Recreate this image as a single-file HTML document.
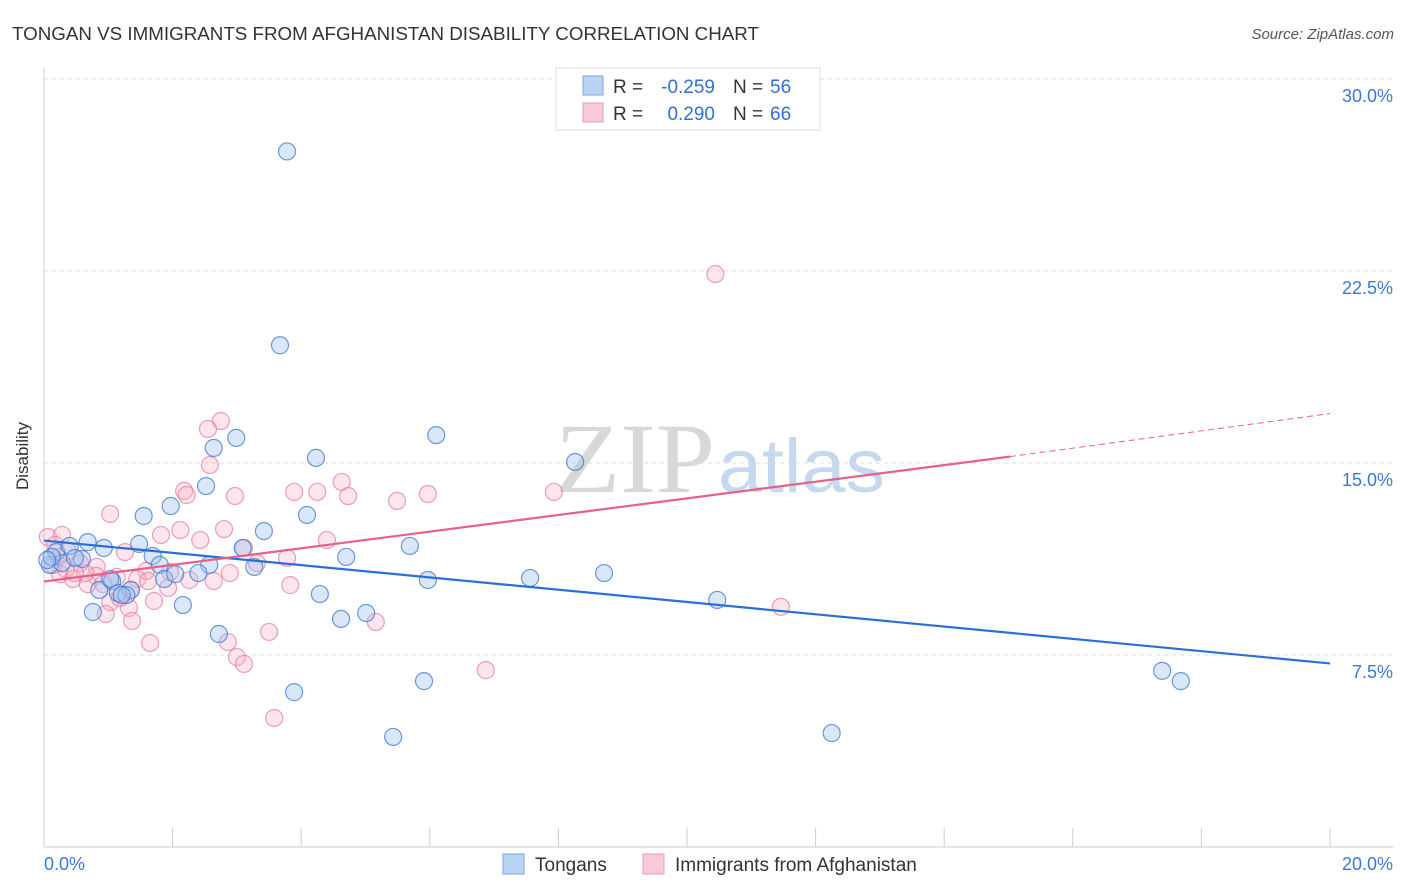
<!DOCTYPE html>
<html><head><meta charset="utf-8"><style>
body{margin:0;background:#fff;font-family:"Liberation Sans",sans-serif}
svg{display:block}
</style></head><body>
<svg id="c" width="1406" height="892">
<text x="12" y="40" font-size="18" fill="#333" textLength="747" lengthAdjust="spacingAndGlyphs">TONGAN VS IMMIGRANTS FROM AFGHANISTAN DISABILITY CORRELATION CHART</text>
<text x="1394" y="39" font-size="15" fill="#555" font-style="italic" text-anchor="end">Source: ZipAtlas.com</text>
<text x="555" y="492" font-size="100" fill="#d8d8d8" textLength="160" lengthAdjust="spacingAndGlyphs" font-family="Liberation Serif">ZIP</text>
<text x="718" y="492" font-size="76" fill="#c5d8ee" textLength="167" lengthAdjust="spacingAndGlyphs">atlas</text>
<g id="grid"></g><g id="pts"></g><g id="lines"></g>
<text x="28" y="456" font-size="17" fill="#333" text-anchor="middle" transform="rotate(-90 28 456)">Disability</text>
<g>
<rect x="556" y="68" width="264" height="62" fill="#fff" stroke="#ddd"/>
<rect x="583" y="76" width="20" height="19" fill="#b9d3f5" stroke="#7ea6e0"/>
<rect x="583" y="103" width="20" height="19" fill="#f9c9d7" stroke="#ec9ab3"/>
<text x="613" y="93" font-size="19" fill="#333">R =</text>
<text x="715" y="93" font-size="19" fill="#2f6fd6" text-anchor="end">-0.259</text>
<text x="733" y="93" font-size="19" fill="#333">N =</text>
<text x="770" y="93" font-size="19" fill="#2f6fd6">56</text>
<text x="613" y="120" font-size="19" fill="#333">R =</text>
<text x="715" y="120" font-size="19" fill="#2f6fd6" text-anchor="end">0.290</text>
<text x="733" y="120" font-size="19" fill="#333">N =</text>
<text x="770" y="120" font-size="19" fill="#2f6fd6">66</text>
</g>
<g>
<rect x="503" y="854" width="21" height="20" fill="#b9d3f5" stroke="#7ea6e0"/>
<text x="535" y="871" font-size="19" fill="#333">Tongans</text>
<rect x="643" y="854" width="21" height="20" fill="#f9c9d7" stroke="#ec9ab3"/>
<text x="675" y="871" font-size="19" fill="#333">Immigrants from Afghanistan</text>
</g>
</svg>
<script>
const yTicks=[7.5,15,22.5,30];
const xTicksLabels=["0.0%","20.0%"];
const blueX=[3.78,3.67,6.1,2.99,8.26,2.64,2.52,4.23,1.97,1.55,4.09,3.42,0.68,0.93,1.48,3.09,4.7,5.69,0.19,0.4,0.59,1.69,1.8,2.57,3.27,8.71,7.56,1.87,2.04,2.4,1.06,5.97,4.29,1.35,1.15,1.28,0.86,5.01,2.16,0.76,4.62,10.47,2.72,3.89,5.91,5.43,12.25,17.39,17.68,0.09,0.28,0.12,0.48,0.05,1.03,1.21];
const blueY=[27.17,19.6,16.09,15.98,15.04,15.59,14.1,15.2,13.32,12.93,12.97,12.34,11.91,11.68,11.84,11.68,11.33,11.76,11.52,11.76,11.25,11.37,11.02,11.02,10.94,10.7,10.51,10.47,10.66,10.7,10.39,10.43,9.88,10.04,9.92,9.84,10.04,9.14,9.45,9.18,8.91,9.65,8.32,6.05,6.48,4.3,4.45,6.88,6.48,11.02,11.09,11.33,11.29,11.21,10.47,9.84];
const pinkX=[10.44,2.75,2.55,2.58,2.18,2.22,2.97,3.89,4.25,4.63,4.73,5.49,5.97,7.93,1.03,2.12,1.82,2.8,4.4,2.43,1.26,3.11,3.31,3.78,0.06,0.28,0.17,0.37,0.56,0.82,1.13,1.59,2.26,2.89,2.64,1.45,1.62,0.81,0.25,0.45,0.68,0.92,1.35,1.93,0.64,0.34,3.83,1.03,1.32,1.71,0.96,1.37,5.16,1.65,2.86,3.5,3.0,3.11,6.87,3.58,11.46,1.96,0.14,0.22,0.48,1.18];
const pinkY=[22.38,16.64,16.33,14.92,13.91,13.75,13.71,13.87,13.87,14.26,13.71,13.52,13.79,13.87,13.01,12.38,12.19,12.42,11.99,11.99,11.52,11.68,11.09,11.29,12.11,12.19,11.8,11.56,11.09,10.94,10.55,10.78,10.43,10.7,10.39,10.47,10.39,10.59,10.66,10.47,10.27,10.27,10.04,10.12,10.7,10.86,10.23,9.57,9.34,9.61,9.1,8.83,8.79,7.97,8.01,8.4,7.42,7.15,6.91,5.04,9.38,10.74,11.02,11.33,10.7,9.73];
const blueLine=[[0,11.97],[20,7.17]];
const pinkLine=[[0,10.37],[15.02,15.25],[20,16.93]];
const X=v=>44+v*64.3, Y=v=>847-v*25.6;
const NS="http://www.w3.org/2000/svg";
function mk(t,a,p){const e=document.createElementNS(NS,t);for(const k in a)e.setAttribute(k,a[k]);p.appendChild(e);return e;}
const g=document.getElementById('grid');
let ax=mk('line',{x1:44,y1:68,x2:44,y2:847,stroke:'#ccc'},g);

let bx=mk('line',{x1:44,y1:847,x2:1393,y2:847,stroke:'#ccc'},g);

yTicks.forEach(t=>{
 const l=mk('line',{x1:44,x2:1393,y1:Y(t),y2:Y(t),stroke:'#ddd','stroke-dasharray':'4,4'},g);
 
 const tx=mk('text',{x:1393,y:Y(t)+23,'font-size':18,fill:'#3a78d8','text-anchor':'end'},g);
 tx.textContent=t.toFixed(1)+'%';
 
});
for(let i=0;i<=10;i++){const x=X(i*2);const l=mk('line',{x1:x,x2:x,y1:828,y2:847,stroke:'#ccc'},g);
 }
[[X(0),'start',xTicksLabels[0]],[1393,'end',xTicksLabels[1]]].forEach(([x,a,s])=>{
 const t=mk('text',{x:x,y:870,'font-size':18,fill:'#3a78d8','text-anchor':a},g);t.textContent=s;
 });
const p=document.getElementById('pts');
pinkX.forEach((v,i)=>{const c=mk('circle',{cx:X(v),cy:Y(pinkY[i]),r:8.5,fill:'rgba(246,180,200,0.35)',stroke:'rgba(232,120,155,0.7)','stroke-width':1.2},p);
 });
blueX.forEach((v,i)=>{const c=mk('circle',{cx:X(v),cy:Y(blueY[i]),r:8.5,fill:'rgba(160,195,240,0.4)',stroke:'rgba(60,120,210,0.75)','stroke-width':1.2},p);
 });
const L=document.getElementById('lines');
let bl=mk('line',{x1:X(blueLine[0][0]),y1:Y(blueLine[0][1]),x2:X(blueLine[1][0]),y2:Y(blueLine[1][1]),stroke:'#2a6fd8','stroke-width':2.2},L);

let pl=mk('line',{x1:X(pinkLine[0][0]),y1:Y(pinkLine[0][1]),x2:X(pinkLine[1][0]),y2:Y(pinkLine[1][1]),stroke:'#e8608a','stroke-width':2.2},L);

let pd=mk('line',{x1:X(pinkLine[1][0]),y1:Y(pinkLine[1][1]),x2:X(pinkLine[2][0]),y2:Y(pinkLine[2][1]),stroke:'#e8608a','stroke-width':1,'stroke-dasharray':'6,4'},L);

</script>
</body></html>
